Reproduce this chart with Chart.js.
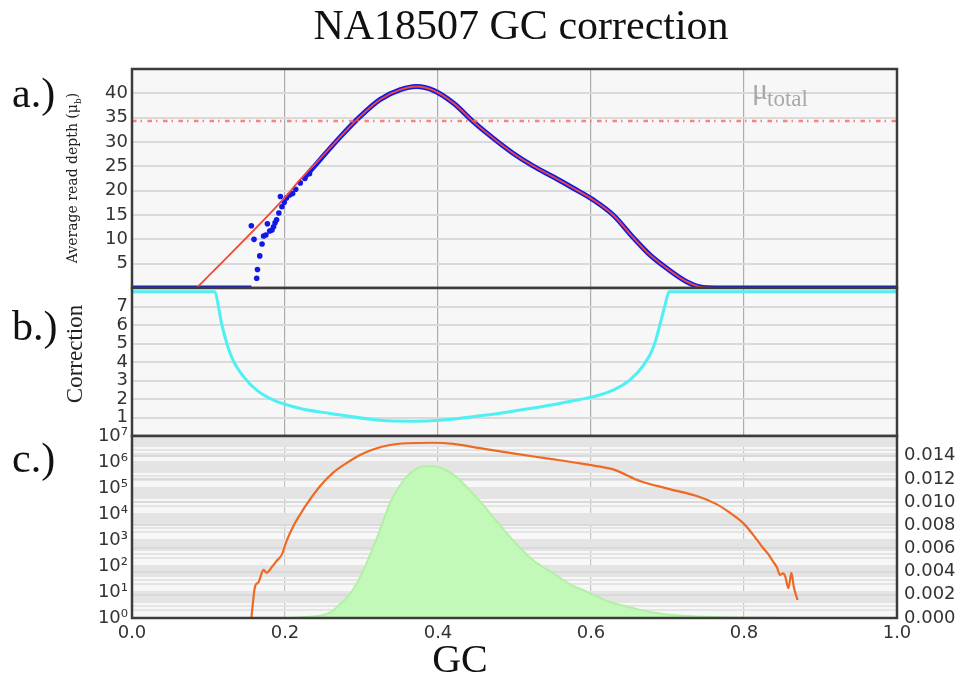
<!DOCTYPE html>
<html>
<head>
<meta charset="utf-8">
<title>NA18507 GC correction</title>
<script src="https://cdn.jsdelivr.net/npm/chart.js@4"></script>
<style>
  body { margin: 0; background: #fff; }
  #wrap { position: relative; width: 964px; height: 677px; overflow: hidden; background: #fff; }
  #wrap canvas { position: absolute; left: 0; top: 0; }
  .txt { position: absolute; font-family: "Liberation Serif", serif; color: #111; white-space: nowrap; line-height: 1; }
  .rot { transform: translate(-50%, -50%) rotate(-90deg); }
</style>
</head>
<body>
<div id="wrap">
  <canvas id="depth" width="964" height="677"></canvas>
  <canvas id="corr" width="964" height="677"></canvas>
  <canvas id="dist" width="964" height="677"></canvas>

  <div class="txt" style="left:521px; top:4px; font-size:42px; transform:translateX(-50%);">NA18507 GC correction</div>
  <div class="txt" style="left:12px; top:72px; font-size:42px;">a.)</div>
  <div class="txt" style="left:12px; top:305px; font-size:42px;">b.)</div>
  <div class="txt" style="left:12px; top:437px; font-size:42px;">c.)</div>
  <div class="txt rot" style="left:74px; top:178px; font-size:14px; font-family:'DejaVu Serif', serif; color:#222;">Average read depth (μ<sub style="font-size:9px">b</sub>)</div>
  <div class="txt rot" style="left:74px; top:354px; font-size:23px; color:#222;">Correction</div>
  <div class="txt" style="left:460px; top:639px; font-size:40px; transform:translateX(-50%);">GC</div>
  <div class="txt" style="left:752px; top:74px; font-size:30px; color:#a8a8a8;">μ</div>
  <div class="txt" style="left:767px; top:87px; font-size:23px; color:#a8a8a8;">total</div>
</div>

<script>
// ---- data ----
const gcTicks = [0, 0.2, 0.4, 0.6, 0.8, 1.0];

// a.) observed mean depth (blue) and fit (red)
const fitX = [0.0845, 0.2, 0.22, 0.246, 0.272, 0.298, 0.324, 0.35, 0.372, 0.394, 0.42, 0.446, 0.472, 0.498, 0.524, 0.551, 0.577, 0.603, 0.629, 0.655, 0.677, 0.699, 0.725, 0.747, 0.77, 1.0];
const fitY = [0, 18.6, 22.3, 26.6, 31.0, 35.2, 38.7, 40.7, 41.4, 40.6, 38.0, 34.2, 30.8, 27.7, 25.1, 22.8, 20.5, 18.1, 15.0, 10.4, 6.8, 4.05, 1.3, 0.1, 0, 0];
const obsLineX = [0, 0.156, 0.19, 0.225, 0.246, 0.272, 0.298, 0.324, 0.35, 0.372, 0.394, 0.42, 0.446, 0.472, 0.498, 0.524, 0.551, 0.577, 0.603, 0.629, 0.655, 0.677, 0.699, 0.725, 0.747, 0.77, 1.0];
const obsLineY = [0, 0, null, 22.6, 26.4, 31.0, 35.2, 38.7, 40.7, 41.4, 40.6, 38.0, 34.2, 30.8, 27.7, 25.1, 22.8, 20.5, 18.1, 15.0, 10.4, 6.8, 4.05, 1.3, 0.1, 0, 0];
const obsDotX = [0.156, 0.1595, 0.163, 0.164, 0.167, 0.170, 0.172, 0.175, 0.177, 0.180, 0.183, 0.185, 0.187, 0.189, 0.192, 0.194, 0.196, 0.199, 0.202, 0.206, 0.210, 0.214, 0.220, 0.226, 0.232];
const obsDotY = [12.8, 10.0, 2.0, 3.8, 6.6, 9.05, 10.7, 10.9, 13.2, 11.7, 11.9, 12.6, 13.4, 14.0, 15.4, 18.8, 16.7, 17.6, 18.5, 19.1, 19.4, 20.3, 21.6, 22.5, 23.5];
const muTotal = 34.3;
const depthTicks = [5, 10, 15, 20, 25, 30, 35, 40];

// b.) correction factor
const corrX = [0, 0.1085, 0.113, 0.117, 0.124, 0.132, 0.146, 0.163, 0.185, 0.22, 0.259, 0.324, 0.368, 0.403, 0.455, 0.498, 0.542, 0.586, 0.603, 0.629, 0.651, 0.669, 0.682, 0.690, 0.697, 0.702, 1.0];
const corrY = [7.8, 7.8, 7.0, 6.1, 5.0, 4.1, 3.2, 2.48, 1.94, 1.49, 1.22, 0.85, 0.80, 0.85, 1.09, 1.34, 1.63, 1.98, 2.12, 2.48, 3.03, 3.84, 4.84, 6.0, 7.1, 7.8, 7.8];
const corrTicks = [1, 2, 3, 4, 5, 6, 7];

// c.) window counts per GC (orange, log axis) and GC density (green, right axis)
const countX = [0.156, 0.161, 0.165, 0.172, 0.176, 0.183, 0.189, 0.196, 0.202, 0.211, 0.22, 0.228, 0.246, 0.263, 0.281, 0.298, 0.316, 0.337, 0.359, 0.394, 0.42, 0.455, 0.498, 0.542, 0.586, 0.612, 0.629, 0.664, 0.7, 0.742, 0.764, 0.78, 0.799, 0.812, 0.825, 0.832, 0.838, 0.843, 0.847, 0.851, 0.854, 0.858, 0.862, 0.865, 0.870];
const countY = [1, 17, 23, 71, 55, 93, 155, 280, 910, 3470, 9800, 2.3e4, 1.2e5, 3.9e5, 9.3e5, 1.86e6, 3.1e6, 4.5e6, 5.25e6, 5.5e6, 5.0e6, 3.4e6, 2.14e6, 1.38e6, 8.9e5, 6.6e5, 5.2e5, 1.86e5, 9.5e4, 4.5e4, 2.4e4, 1.2e4, 4470, 1580, 490, 280, 148, 89, 45, 52, 39, 14, 54, 16, 4.9];
const densX = [0, 0.2, 0.23, 0.246, 0.26, 0.272, 0.284, 0.294, 0.305, 0.316, 0.327, 0.337, 0.348, 0.359, 0.368, 0.376, 0.386, 0.394, 0.405, 0.42, 0.433, 0.446, 0.46, 0.472, 0.485, 0.498, 0.511, 0.524, 0.537, 0.55, 0.563, 0.576, 0.59, 0.603, 0.616, 0.629, 0.646, 0.664, 0.68, 0.7, 0.725, 0.75, 0.8, 0.85, 0.916];
const densY = [0, 0, 0.0001, 0.0002, 0.0005, 0.0012, 0.002, 0.003, 0.0045, 0.0062, 0.0081, 0.0099, 0.0112, 0.0122, 0.0127, 0.013, 0.0131, 0.0131, 0.0129, 0.0124, 0.0116, 0.0107, 0.0097, 0.0087, 0.0077, 0.0067, 0.0058, 0.005, 0.0044, 0.0039, 0.0033, 0.0028, 0.0024, 0.002, 0.0016, 0.0013, 0.001, 0.0007, 0.0005, 0.0003, 0.00018, 0.0001, 0.00003, 0.00001, 0];
const logMajors = [1, 10, 100, 1e3, 1e4, 1e5, 1e6, 1e7];
const logLabels = ['10⁰', '10¹', '10²', '10³', '10⁴', '10⁵', '10⁶', '10⁷'];
const densTicks = [0, 0.002, 0.004, 0.006, 0.008, 0.010, 0.012, 0.014];

// ---- helpers ----
const pts = (xs, ys) => xs.map((x, i) => ({ x: x, y: ys[i] }));

Chart.defaults.font.family = "'DejaVu Sans', sans-serif";
Chart.defaults.font.size = 18;
Chart.defaults.color = '#333';
Chart.defaults.animation = false;
Chart.defaults.plugins.legend.display = false;
Chart.defaults.plugins.tooltip.enabled = false;

const panelFrame = {
  id: 'panelFrame',
  beforeDraw(chart) {
    const { ctx, chartArea: a } = chart;
    ctx.save();
    ctx.fillStyle = '#f7f7f7';
    ctx.fillRect(a.left, a.top, a.right - a.left, a.bottom - a.top);
    ctx.restore();
  },
  afterDraw(chart) {
    const { ctx, chartArea: a } = chart;
    ctx.save();
    ctx.strokeStyle = '#3c3c3c';
    ctx.lineWidth = 2.5;
    ctx.strokeRect(a.left, a.top, a.right - a.left, a.bottom - a.top);
    ctx.restore();
  }
};

function gcAxis(showLabels, gridColor) {
  return {
    type: 'linear',
    min: 0,
    max: 1,
    border: { display: false },
    grid: { color: gridColor, lineWidth: 1.2, drawTicks: false },
    afterBuildTicks(scale) { scale.ticks = gcTicks.map(v => ({ value: v })); },
    ticks: {
      display: showLabels,
      padding: 5,
      maxRotation: 0,
      autoSkip: false,
      callback: v => v.toFixed(1)
    },
    afterFit(scale) { scale.height = showLabels ? 28 : 0; }
  };
}

function leftAxis(min, max, tickList) {
  return {
    min: min,
    max: max,
    border: { display: false },
    grid: { color: '#dadada', lineWidth: 2, drawTicks: false },
    afterBuildTicks(scale) { scale.ticks = tickList.map(v => ({ value: v })); },
    ticks: { padding: 4, autoSkip: false },
    afterFit(scale) { scale.width = 60; }
  };
}

// ---- a.) average read depth ----
new Chart(document.getElementById('depth'), {
  type: 'line',
  data: {
    datasets: [
      {
        label: 'Fit',
        data: pts(fitX, fitY),
        borderColor: '#f2473c',
        borderWidth: 1.8,
        pointRadius: 0,
        cubicInterpolationMode: 'monotone'
      },
      {
        label: 'μ total',
        data: pts([0, 1], [muTotal, muTotal]),
        borderColor: 'rgba(255, 110, 95, 0.85)',
        borderWidth: 2.5,
        borderDash: [4.5, 4, 1.5, 5.5],
        pointRadius: 0
      },
      {
        label: 'Observed',
        data: pts(obsLineX, obsLineY),
        borderColor: '#1018e8',
        borderWidth: 5,
        pointRadius: 0,
        spanGaps: false,
        cubicInterpolationMode: 'monotone'
      },
      {
        label: 'Observed bins',
        data: pts(obsDotX, obsDotY),
        showLine: false,
        pointRadius: 2.8,
        pointBorderWidth: 0,
        pointBackgroundColor: '#1018e8'
      }
    ]
  },
  options: {
    responsive: false,
    devicePixelRatio: 1,
    layout: { padding: { top: 69, left: 72, right: 67, bottom: 389 } },
    scales: {
      x: gcAxis(false, 'rgba(0,0,0,0.3)'),
      y: leftAxis(0, 45, depthTicks)
    }
  },
  plugins: [panelFrame]
});

// ---- b.) correction ----
new Chart(document.getElementById('corr'), {
  type: 'line',
  data: {
    datasets: [
      {
        label: 'Correction',
        data: pts(corrX, corrY),
        borderColor: '#4ef0f4',
        borderWidth: 3,
        pointRadius: 0,
        cubicInterpolationMode: 'monotone'
      }
    ]
  },
  options: {
    responsive: false,
    devicePixelRatio: 1,
    layout: { padding: { top: 288, left: 72, right: 67, bottom: 241 } },
    scales: {
      x: gcAxis(false, 'rgba(0,0,0,0.3)'),
      y: leftAxis(0, 8, corrTicks)
    }
  },
  plugins: [panelFrame]
});

// ---- c.) GC distribution ----
new Chart(document.getElementById('dist'), {
  type: 'line',
  data: {
    datasets: [
      {
        label: 'Windows',
        data: pts(countX, countY),
        yAxisID: 'y',
        borderColor: '#ee6a24',
        borderWidth: 2.2,
        pointRadius: 0,
        cubicInterpolationMode: 'monotone'
      },
      {
        label: 'GC density',
        data: pts(densX, densY),
        yAxisID: 'y2',
        fill: 'origin',
        backgroundColor: '#c2f9b8',
        borderColor: '#b3f0a6',
        borderWidth: 2,
        pointRadius: 0,
        cubicInterpolationMode: 'monotone'
      }
    ]
  },
  options: {
    responsive: false,
    devicePixelRatio: 1,
    layout: { padding: { top: 436, left: 72, right: 0, bottom: 31 } },
    scales: {
      x: gcAxis(true, 'rgba(0,0,0,0.2)'),
      y: {
        type: 'logarithmic',
        position: 'left',
        min: 1,
        max: 1e7,
        border: { display: false },
        grid: { color: '#e4e4e4', lineWidth: 2, drawTicks: false },
        afterBuildTicks(scale) {
          scale.ticks = logMajors.flatMap(m => m < 1e7 ? [1, 2, 3, 4, 5, 6, 7, 8, 9].map(k => m * k) : [m])
            .map(v => ({ value: v }));
        },
        ticks: {
          padding: 4,
          autoSkip: false,
          callback: v => {
            const i = logMajors.indexOf(v);
            return i >= 0 ? logLabels[i] : '';
          }
        },
        afterFit(scale) { scale.width = 60; }
      },
      y2: {
        position: 'right',
        min: 0,
        max: 0.0157,
        border: { display: false },
        grid: { color: '#d9d9d9', lineWidth: 2, drawTicks: false },
        afterBuildTicks(scale) { scale.ticks = densTicks.map(v => ({ value: v })); },
        ticks: { padding: 7, autoSkip: false, callback: v => v.toFixed(3) },
        afterFit(scale) { scale.width = 67; }
      }
    }
  },
  plugins: [panelFrame]
});
</script>
</body>
</html>
